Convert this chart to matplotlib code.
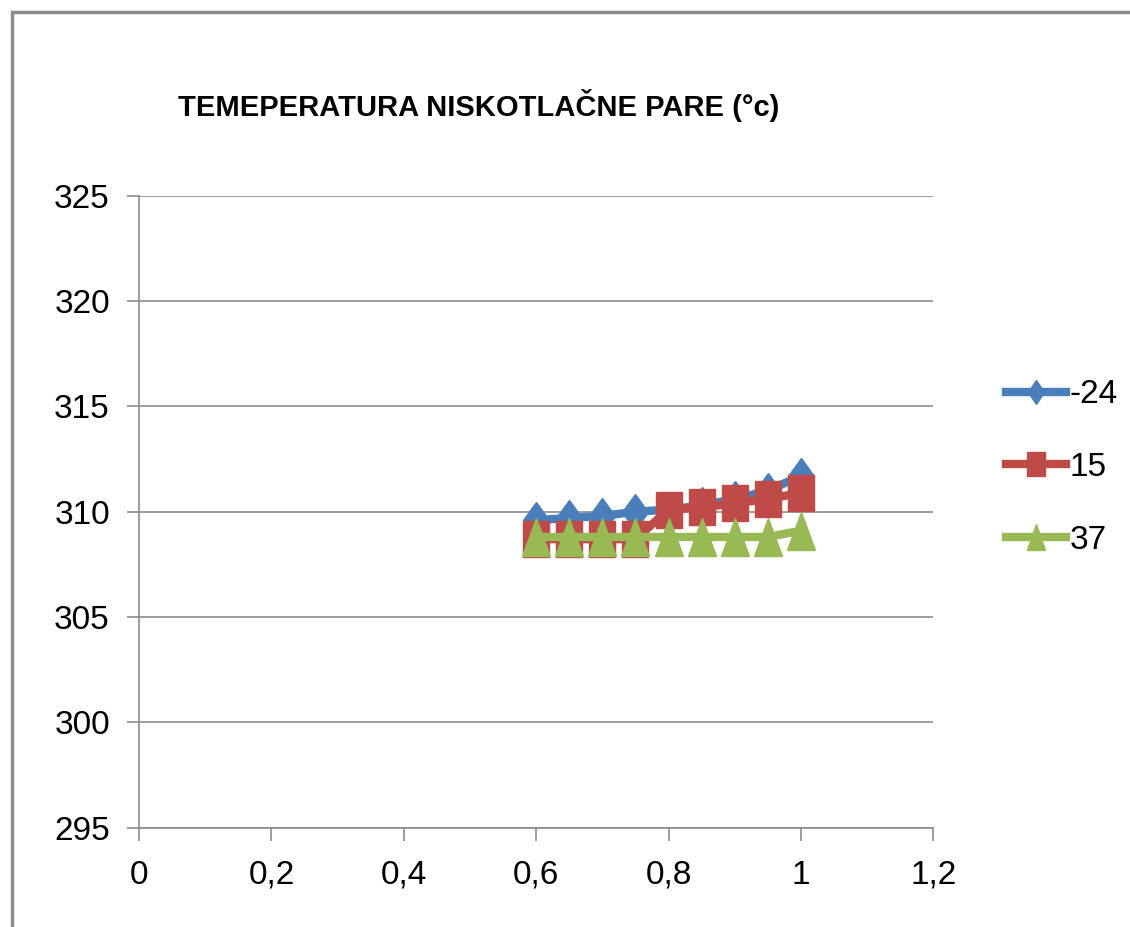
import matplotlib
matplotlib.use('Agg')
import matplotlib.pyplot as plt
from matplotlib.patches import Rectangle
from matplotlib.markers import MarkerStyle
from matplotlib.transforms import Affine2D

plt.rcParams['font.family'] = ['Liberation Sans', 'DejaVu Sans']

# x values (shared by all series)
x = [0.6, 0.65, 0.7, 0.75, 0.8, 0.85, 0.9, 0.95, 1.0]

# temperature series, legend label = series name
t_m24 = [309.6, 309.7, 309.8, 310.0, 310.1, 310.3, 310.6, 311.0, 311.7]
t_15 = [308.7, 308.7, 308.7, 308.7, 310.1, 310.2, 310.4, 310.6, 310.9]
t_37 = [308.8, 308.8, 308.8, 308.8, 308.8, 308.8, 308.8, 308.8, 309.1]

xticks = [0, 0.2, 0.4, 0.6, 0.8, 1.0, 1.2]
xtick_labels = ['0', '0,2', '0,4', '0,6', '0,8', '1', '1,2']
yticks = [295, 300, 305, 310, 315, 320, 325]

fig = plt.figure(figsize=(11.3, 9.27), dpi=100)
ax = fig.add_axes([0.123, 0.107, 0.703, 0.682])

# outer chart frame
fig.patches.append(Rectangle((12 / 1130, -0.05), 1.2, 1 - 12 / 927 + 0.05,
                             transform=fig.transFigure, fill=False,
                             edgecolor='#8c8c8c', linewidth=2.5))

# the original is stretched vertically, so are its markers
tall = Affine2D().scale(1.0, 1.4)
m_d = MarkerStyle('D', transform=tall)
m_s = MarkerStyle('s', transform=tall)
m_t = MarkerStyle('^', transform=tall)

ax.plot(x, t_m24, color='#4a7ebb', marker=m_d, markersize=13, linewidth=6, label='-24')
ax.plot(x, t_15, color='#be4b48', marker=m_s, markersize=19, linewidth=6, label='15')
ax.plot(x, t_37, color='#98b954', marker=m_t, markersize=20, linewidth=6, label='37')

ax.set_xlim(0, 1.2)
ax.set_ylim(295, 325)
ax.set_xticks(xticks)
ax.set_xticklabels(xtick_labels)
ax.set_yticks(yticks)
ax.yaxis.grid(True, color='#8c8c8c', linewidth=1.2)
ax.set_axisbelow(True)
for s in ['top', 'right']:
    ax.spines[s].set_visible(False)
for s in ['left', 'bottom']:
    ax.spines[s].set_color('#8c8c8c')
    ax.spines[s].set_linewidth(1.2)
ax.tick_params(axis='both', colors='#8c8c8c', labelcolor='black', labelsize=24,
               length=9, width=1.2)
ax.tick_params(axis='x', pad=14)
ax.tick_params(axis='y', pad=12)

fig.text(178 / 1130, 1 - 105 / 927, 'TEMEPERATURA NISKOTLAČNE PARE (°c)',
         fontsize=21, fontweight='bold', va='center', ha='left')

ax.legend(loc='center left', bbox_to_anchor=(1.075, 0.57), frameon=False,
          fontsize=24, handlelength=1.8, labelspacing=1.25, handletextpad=0.1,
          markerscale=0.65, borderaxespad=0)

fig.savefig('out.png', dpi=100)
